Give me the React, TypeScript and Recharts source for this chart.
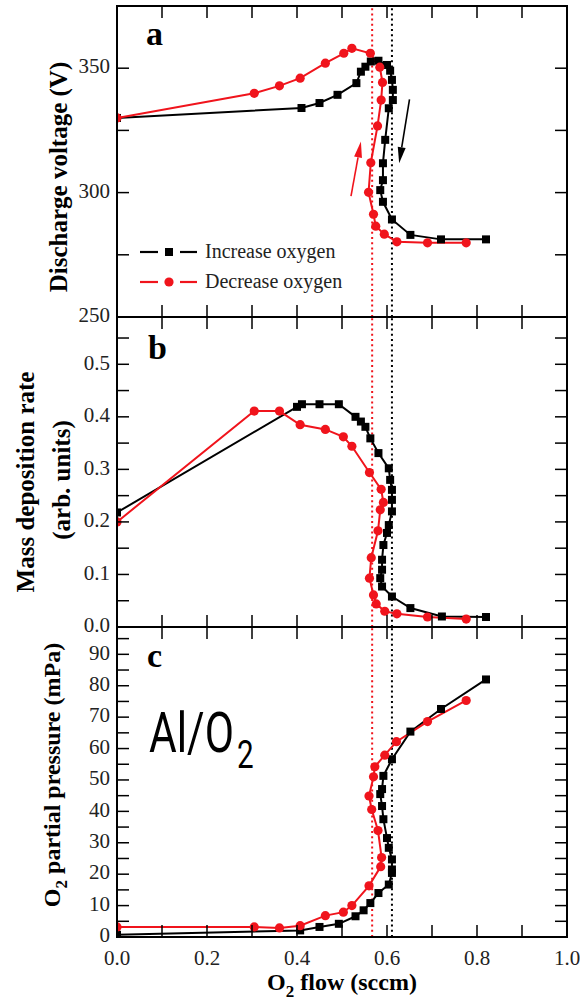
import React from 'react';
import { LineChart, Line, XAxis, YAxis, ReferenceLine } from 'recharts';

const SERIF = '"Liberation Serif", "Times New Roman", Times, serif';
const INK = '#000';
const LABEL_INK = '#222';
const RED = '#f0141c';
const TICK_LEN = 12;

// frame geometry shared by the three stacked panels
const PLOT_LEFT = 117;
const PLOT_RIGHT = 567;
const PAGE_H = 1003;

// shared O2 flow axis (sccm)
const flowTicks = [0, 0.1, 0.2, 0.3, 0.4, 0.5, 0.6, 0.7, 0.8, 0.9, 1.0];
const flowLabels = [0, 0.2, 0.4, 0.6, 0.8, 1.0];

// dotted guide lines at the two transition flows
const decreaseTransition = 0.567;
const increaseTransition = 0.611;

// (a) discharge voltage (V)
const voltageTicks = [250, 275, 300, 325, 350];
const voltageLabels = [250, 300, 350];
const incFlowA = [0, 0.41, 0.45, 0.49, 0.532, 0.542, 0.552, 0.564, 0.581, 0.6, 0.607, 0.611, 0.613, 0.613, 0.604, 0.596, 0.591, 0.591, 0.585, 0.591, 0.611, 0.652, 0.72, 0.82];
const incVoltage = [330, 334, 336, 339.3, 344, 348.6, 350.6, 352.7, 353, 351.3, 349, 345.3, 341.3, 337.2, 333.9, 321.2, 311.8, 305, 301, 296.3, 289.2, 283, 281.2, 281.2];
const decFlowA = [0.776, 0.69, 0.622, 0.594, 0.575, 0.57, 0.559, 0.564, 0.579, 0.587, 0.59, 0.584, 0.563, 0.522, 0.504, 0.463, 0.407, 0.361, 0.305, 0];
const decVoltage = [279.8, 279.8, 280.2, 283.3, 286.5, 291.3, 300.1, 312, 326.8, 337.2, 344.3, 350.4, 356, 358, 356, 352, 346, 342.9, 339.9, 330];
// hysteresis direction arrows [flow, voltage]
const arrowUp = [[0.52, 298.6], [0.542, 320.5]];
const arrowDown = [[0.65, 337.5], [0.627, 311.8]];

// (b) mass deposition rate (arb. units)
const rateTicks = [0, 0.05, 0.1, 0.15, 0.2, 0.25, 0.3, 0.35, 0.4, 0.45, 0.5, 0.55];
const rateLabels = [0, 0.1, 0.2, 0.3, 0.4, 0.5];
const incFlowB = [0, 0.4, 0.411, 0.45, 0.493, 0.53, 0.542, 0.552, 0.563, 0.581, 0.604, 0.607, 0.611, 0.611, 0.611, 0.604, 0.6, 0.592, 0.589, 0.589, 0.585, 0.589, 0.611, 0.652, 0.722, 0.82];
const incRate = [0.218, 0.419, 0.424, 0.424, 0.424, 0.4, 0.391, 0.381, 0.359, 0.331, 0.302, 0.28, 0.261, 0.242, 0.22, 0.194, 0.179, 0.156, 0.128, 0.109, 0.093, 0.077, 0.058, 0.036, 0.02, 0.019];
const decFlowB = [0.776, 0.69, 0.622, 0.595, 0.576, 0.57, 0.561, 0.565, 0.58, 0.585, 0.592, 0.587, 0.561, 0.522, 0.503, 0.463, 0.407, 0.361, 0.305, 0];
const decRate = [0.015, 0.019, 0.025, 0.03, 0.044, 0.061, 0.093, 0.132, 0.183, 0.223, 0.237, 0.262, 0.294, 0.344, 0.362, 0.376, 0.385, 0.411, 0.411, 0.2];

// (c) O2 partial pressure (mPa)
const pressureTicks = [0, 5, 10, 15, 20, 25, 30, 35, 40, 45, 50, 55, 60, 65, 70, 75, 80, 85, 90, 95];
const pressureLabels = [0, 10, 20, 30, 40, 50, 60, 70, 80, 90];
const incFlowC = [0, 0.407, 0.45, 0.493, 0.53, 0.548, 0.563, 0.581, 0.604, 0.611, 0.611, 0.611, 0.604, 0.6, 0.592, 0.589, 0.585, 0.589, 0.592, 0.611, 0.652, 0.72, 0.82];
const incPressure = [0.7, 2.1, 3.2, 4.2, 6.6, 8.5, 10.8, 14, 16.7, 20.4, 21.5, 24.7, 28.4, 31.5, 37.5, 41.7, 45.5, 47.1, 51.3, 56.6, 65.4, 72.6, 82];
const decFlowC = [0.776, 0.69, 0.621, 0.595, 0.573, 0.57, 0.56, 0.566, 0.58, 0.588, 0.586, 0.56, 0.522, 0.503, 0.463, 0.407, 0.361, 0.305, 0];
const decPressure = [75.3, 68.6, 62.2, 57.9, 54.2, 51, 44.9, 40.6, 33.9, 25.3, 22.4, 16.3, 10, 7.9, 6.8, 3.6, 2.9, 3.2, 3.2];

type Row = { x: number; y: number };
const toRows = (xs: number[], ys: number[]): Row[] => xs.map((x, i) => ({ x, y: ys[i] }));
const hasLabel = (list: number[], v: number) => list.some((l) => Math.abs(l - v) < 1e-9);

const squareDot = (p: any) => (
  <rect key={`sq-${p.index}`} x={p.cx - 4} y={p.cy - 4} width={8} height={8} fill={INK} />
);
const circleDot = (p: any) => (
  <circle key={`ci-${p.index}`} cx={p.cx} cy={p.cy} r={4.6} fill={RED} />
);

const bottomLabel = (p: any) => {
  const v = p.payload.value;
  if (!hasLabel(flowLabels, v)) return <g />;
  return (
    <text x={p.x} y={p.y + 28} textAnchor="middle" fontFamily={SERIF} fontSize={21} fill={LABEL_INK}>
      {v.toFixed(1)}
    </text>
  );
};
const leftLabel = (labels: number[], fmt: (v: number) => string) => (p: any) => {
  const v = p.payload.value;
  if (!hasLabel(labels, v)) return <g />;
  return (
    <text x={p.x - 7} y={p.y} dy="0.25em" textAnchor="end" fontFamily={SERIF} fontSize={21} fill={LABEL_INK}>
      {fmt(v)}
    </text>
  );
};

const arrowShape = (color: string) => (p: any) => {
  const { x1, y1, x2, y2 } = p;
  const dx = x2 - x1;
  const dy = y2 - y1;
  const len = Math.hypot(dx, dy) || 1;
  const ux = dx / len;
  const uy = dy / len;
  const hl = 16;
  const hw = 4;
  const bx = x2 - ux * hl;
  const by = y2 - uy * hl;
  return (
    <g>
      <line x1={x1} y1={y1} x2={bx} y2={by} stroke={color} strokeWidth={1.6} />
      <polygon points={`${x2},${y2} ${bx - uy * hw},${by + ux * hw} ${bx + uy * hw},${by - ux * hw}`} fill={color} />
    </g>
  );
};

type PanelProps = {
  plotTop: number;
  plotBottom: number;
  yDomain: [number, number];
  yTicks: number[];
  yLabels: number[];
  fmt: (v: number) => string;
  inc: Row[];
  dec: Row[];
  showFlowLabels: boolean;
  arrows?: boolean;
};

function Panel({ plotTop, plotBottom, yDomain, yTicks, yLabels, fmt, inc, dec, showFlowLabels, arrows }: PanelProps) {
  return (
    <div style={{ position: 'absolute', left: 0, top: 0 }}>
      <LineChart
        width={580}
        height={PAGE_H}
        margin={{
          top: plotTop,
          right: 580 - PLOT_RIGHT,
          left: 0,
          bottom: showFlowLabels ? 0 : PAGE_H - plotBottom,
        }}
      >
        <XAxis
          dataKey="x"
          type="number"
          domain={[0, 1]}
          ticks={flowTicks}
          interval={0}
          allowDataOverflow
          hide={!showFlowLabels}
          tickLine={false}
          tickSize={0}
          tickMargin={0}
          axisLine={false}
          height={showFlowLabels ? PAGE_H - plotBottom : 0}
          tick={bottomLabel}
        />
        <YAxis
          type="number"
          domain={yDomain}
          ticks={yTicks}
          interval={0}
          allowDataOverflow
          tickLine={false}
          tickSize={0}
          tickMargin={0}
          axisLine={false}
          width={PLOT_LEFT}
          tick={leftLabel(yLabels, fmt)}
        />
        <ReferenceLine x={decreaseTransition} stroke={RED} strokeWidth={2} strokeDasharray="2 3.2" />
        <ReferenceLine x={increaseTransition} stroke={INK} strokeWidth={2} strokeDasharray="2 3.2" />
        {arrows && (
          <ReferenceLine segment={arrowUp.map(([x, y]) => ({ x, y }))} shape={arrowShape(RED)} />
        )}
        {arrows && (
          <ReferenceLine segment={arrowDown.map(([x, y]) => ({ x, y }))} shape={arrowShape(INK)} />
        )}
        <Line
          data={inc}
          dataKey="y"
          type="linear"
          stroke={INK}
          strokeWidth={2}
          dot={squareDot}
          activeDot={false}
          isAnimationActive={false}
        />
        <Line
          data={dec}
          dataKey="y"
          type="linear"
          stroke={RED}
          strokeWidth={2}
          dot={circleDot}
          activeDot={false}
          isAnimationActive={false}
        />
      </LineChart>
    </div>
  );
}

// box frame with inward ticks on all four sides
function Frame({ top, bottom, domain, yTicks }: { top: number; bottom: number; domain: [number, number]; yTicks: number[] }) {
  const [lo, hi] = domain;
  const ys = yTicks.map((v) => bottom - ((v - lo) / (hi - lo)) * (bottom - top));
  const xs = flowTicks.map((v) => PLOT_LEFT + v * (PLOT_RIGHT - PLOT_LEFT));
  return (
    <g stroke={INK} strokeWidth={1.5}>
      {xs.map((x, i) => (
        <g key={`x${i}`}>
          <line x1={x} y1={bottom} x2={x} y2={bottom - TICK_LEN} />
          <line x1={x} y1={top} x2={x} y2={top + TICK_LEN} />
        </g>
      ))}
      {ys.map((y, i) => (
        <g key={`y${i}`}>
          <line x1={PLOT_LEFT} y1={y} x2={PLOT_LEFT + TICK_LEN} y2={y} />
          <line x1={PLOT_RIGHT} y1={y} x2={PLOT_RIGHT - TICK_LEN} y2={y} />
        </g>
      ))}
      <rect x={PLOT_LEFT} y={top} width={PLOT_RIGHT - PLOT_LEFT} height={bottom - top} fill="none" strokeWidth={2} />
    </g>
  );
}

const titleStyle = { fontFamily: SERIF, fontWeight: 700, fontSize: 24, fill: INK } as const;
const letterStyle = { fontFamily: SERIF, fontWeight: 700, fontSize: 34, fill: INK } as const;

function Annotations() {
  return (
    <svg width={580} height={PAGE_H} style={{ position: 'absolute', left: 0, top: 0, pointerEvents: 'none' }}>
      <Frame top={6} bottom={317} domain={[250, 375]} yTicks={voltageTicks} />
      <Frame top={317} bottom={627} domain={[0, 0.59]} yTicks={rateTicks} />
      <Frame top={627} bottom={937} domain={[0, 98.7]} yTicks={pressureTicks} />

      <text x={146} y={45} {...letterStyle}>a</text>
      <text x={148} y={359} {...letterStyle}>b</text>
      <text x={147} y={667} {...letterStyle}>c</text>

      <g transform="translate(149,752) scale(0.76,1)">
        <text x={0} y={0} fontFamily="Roboto, 'Noto Sans', sans-serif" fontSize={56} fill={INK}>
          Al/O<tspan dx={4} dy={16} fontSize={39}>2</tspan>
        </text>
      </g>

      {/* legend */}
      <g>
        <line x1={140} y1={252} x2={158} y2={252} stroke={INK} strokeWidth={2.2} />
        <line x1={180} y1={252} x2={197} y2={252} stroke={INK} strokeWidth={2.2} />
        <rect x={165} y={248} width={8} height={8} fill={INK} />
        <text x={205} y={258} fontFamily={SERIF} fontSize={20} fill={LABEL_INK}>Increase oxygen</text>
        <line x1={140} y1={282} x2={158} y2={282} stroke={RED} strokeWidth={2.2} />
        <line x1={180} y1={282} x2={197} y2={282} stroke={RED} strokeWidth={2.2} />
        <circle cx={169} cy={282} r={4.6} fill={RED} />
        <text x={205} y={288} fontFamily={SERIF} fontSize={20} fill={LABEL_INK}>Decrease oxygen</text>
      </g>

      {/* axis titles */}
      <text transform="translate(58,177) rotate(-90)" textAnchor="middle" dominantBaseline="central" {...titleStyle} fontSize={25}>
        Discharge voltage (V)
      </text>
      <text transform="translate(25,482) rotate(-90)" textAnchor="middle" dominantBaseline="central" {...titleStyle} fontSize={25}>
        Mass deposition rate
      </text>
      <text transform="translate(61,480) rotate(-90)" textAnchor="middle" dominantBaseline="central" {...titleStyle} fontSize={25}>
        (arb. units)
      </text>
      <text transform="translate(60,775) rotate(-90)" textAnchor="middle" {...titleStyle}>
        O<tspan dy={7} fontSize={17}>2</tspan><tspan dy={-7}> partial pressure (mPa)</tspan>
      </text>
      <text x={342} y={990} textAnchor="middle" {...titleStyle}>
        O<tspan dy={7} fontSize={17}>2</tspan><tspan dy={-7}> flow (sccm)</tspan>
      </text>
    </svg>
  );
}

export default function App() {
  return (
    <div style={{ position: 'absolute', left: 0, top: 0, width: 580, height: PAGE_H, background: '#fff', overflow: 'hidden' }}>
      <Panel
        plotTop={6}
        plotBottom={317}
        yDomain={[250, 375]}
        yTicks={voltageTicks}
        yLabels={voltageLabels}
        fmt={(v) => String(v)}
        inc={toRows(incFlowA, incVoltage)}
        dec={toRows(decFlowA, decVoltage)}
        showFlowLabels={false}
        arrows
      />
      <Panel
        plotTop={317}
        plotBottom={627}
        yDomain={[0, 0.59]}
        yTicks={rateTicks}
        yLabels={rateLabels}
        fmt={(v) => v.toFixed(1)}
        inc={toRows(incFlowB, incRate)}
        dec={toRows(decFlowB, decRate)}
        showFlowLabels={false}
      />
      <Panel
        plotTop={627}
        plotBottom={937}
        yDomain={[0, 98.7]}
        yTicks={pressureTicks}
        yLabels={pressureLabels}
        fmt={(v) => String(v)}
        inc={toRows(incFlowC, incPressure)}
        dec={toRows(decFlowC, decPressure)}
        showFlowLabels
      />
      <Annotations />
    </div>
  );
}
